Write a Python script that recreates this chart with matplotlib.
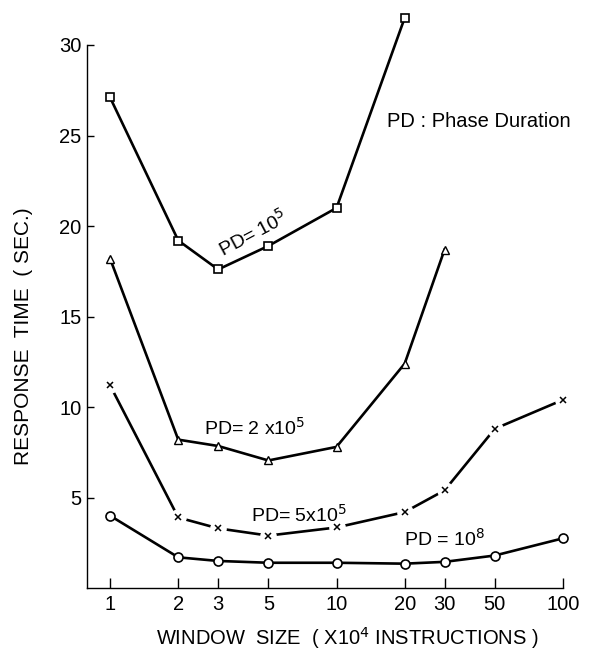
import numpy as np
import matplotlib.pyplot as plt

plt.rcParams['font.family'] = ['Liberation Sans', 'DejaVu Sans']

# window sizes (x10^4 instructions)
w_pd1e5 = [1, 2, 3, 5, 10, 20]
t_pd1e5 = [27.1, 19.2, 17.6, 18.9, 21.0, 31.5]

w_pd2e5 = [1, 2, 3, 5, 10, 20, 30]
t_pd2e5 = [18.2, 8.2, 7.85, 7.05, 7.8, 12.4, 18.7]

w_pd5e5 = [1, 2, 3, 5, 10, 20, 30, 50, 100]
t_pd5e5 = [11.2, 3.9, 3.3, 2.9, 3.35, 4.2, 5.4, 8.8, 10.4]

w_pd1e8 = [1, 2, 3, 5, 10, 20, 30, 50, 100]
t_pd1e8 = [4.0, 1.7, 1.5, 1.4, 1.4, 1.35, 1.45, 1.8, 2.75]

xticks = [1, 2, 3, 5, 10, 20, 30, 50, 100]
yticks = [5, 10, 15, 20, 25, 30]

fig = plt.figure(figsize=(5.97, 6.52), dpi=100)
ax = fig.add_axes([0.146, 0.098, 0.797, 0.833])

lw = 1.9
ax.plot(w_pd1e5, t_pd1e5, '-', color='black', lw=lw, marker='s', ms=6,
        mfc='white', mec='black', mew=1.2, clip_on=False, zorder=3)
ax.plot(w_pd2e5, t_pd2e5, '-', color='black', lw=lw, marker='^', ms=5.5,
        mfc='white', mec='black', mew=1.0, clip_on=False, zorder=3)
# crosses: line broken around each marker
ax.plot(w_pd5e5, t_pd5e5, '-', color='black', lw=lw, clip_on=False, zorder=2)
ax.plot(w_pd5e5, t_pd5e5, 'o', ms=12, mfc='white', mec='none',
        clip_on=False, zorder=2.5)
ax.plot(w_pd5e5, t_pd5e5, 'x', ms=5, color='black', mew=1.1,
        clip_on=False, zorder=3)
ax.plot(w_pd1e8, t_pd1e8, '-', color='black', lw=lw, marker='o', ms=6.5,
        mfc='white', mec='black', mew=1.2, clip_on=False, zorder=3)

ax.set_xscale('log')
ax.set_xlim(0.792, 100)
ax.set_ylim(0, 30)
ax.set_xticks(xticks)
ax.set_xticklabels([str(v) for v in xticks])
ax.xaxis.set_minor_locator(plt.NullLocator())
ax.set_yticks(yticks)
ax.set_yticklabels([str(v) for v in yticks])

ax.spines['top'].set_visible(False)
ax.spines['right'].set_visible(False)
ax.spines['left'].set_linewidth(1.0)
ax.spines['bottom'].set_linewidth(1.0)
ax.tick_params(axis='x', direction='in', length=7, width=1.0,
               labelsize=14.5, pad=5)
ax.tick_params(axis='y', direction='in', length=5, width=1.0,
               labelsize=14.5, pad=4)

ax.set_xlabel('WINDOW  SIZE  ( X10$^4$ INSTRUCTIONS )', fontsize=14.5)
ax.xaxis.set_label_coords(0.546, -0.068)
ax.set_ylabel('RESPONSE  TIME  ( SEC.)', fontsize=15)
ax.yaxis.set_label_coords(-0.113, 0.464)

# curve labels
ax.text(4.28, 19.6, 'PD= 10$^5$', fontsize=14, rotation=28,
        ha='center', va='center')
ax.text(4.37, 8.85, 'PD= 2 x10$^5$', fontsize=14, ha='center', va='center')
ax.text(6.83, 4.05, 'PD= 5x10$^5$', fontsize=14, ha='center', va='center')
ax.text(29.9, 2.7, 'PD = 10$^8$', fontsize=14, ha='center', va='center')
ax.text(16.7, 25.8, 'PD : Phase Duration', fontsize=14.5,
        ha='left', va='center')

fig.savefig('out.png', dpi=100)
